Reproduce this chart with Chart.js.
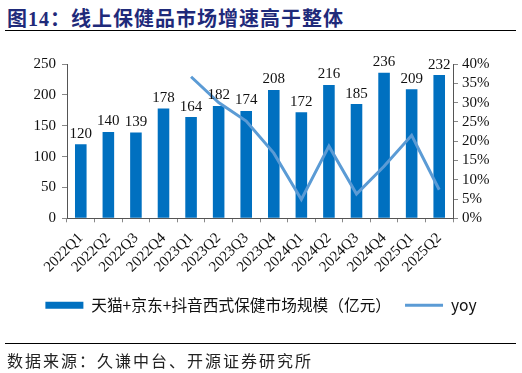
<!DOCTYPE html>
<html>
<head>
<meta charset="utf-8">
<script src="https://cdn.jsdelivr.net/npm/chart.js@4/dist/chart.umd.min.js"></script>
<style>
    body { margin: 0; background: #fff; }
    #wrap { position: relative; width: 522px; height: 373px; overflow: hidden; }
    #title {
        position: absolute; left: 7px; top: 3px;
        font: bold 20px "Liberation Serif", "Noto Sans CJK SC", serif;
        color: #1f2a7a; letter-spacing: 1px;
    }
    .rule { position: absolute; left: 5px; width: 511px; height: 1px; background: #000; }
    #source {
        position: absolute; left: 7px; top: 348px;
        font: 16px "Noto Sans CJK SC", sans-serif; color: #222; letter-spacing: 2px;
    }
    #chart { position: absolute; left: 0; top: 0; }
</style>
</head>
<body>
<div id="wrap">
    <div id="title">图14：线上保健品市场增速高于整体</div>
    <div class="rule" style="top:30px"></div>
    <canvas id="chart" width="522" height="373"></canvas>
    <div class="rule" style="top:343px"></div>
    <div id="source">数据来源：久谦中台、开源证券研究所</div>
</div>
<script>
// quarters
var quarters = ['2022Q1', '2022Q2', '2022Q3', '2022Q4', '2023Q1', '2023Q2', '2023Q3',
    '2023Q4', '2024Q1', '2024Q2', '2024Q3', '2024Q4', '2025Q1', '2025Q2'];
// 市场规模（亿元）
var marketSize = [120, 140, 139, 178, 164, 182, 174, 208, 172, 216, 185, 236, 209, 232];
// yoy (%), no value for 2022
var yoy = [null, null, null, null, 36.7, 30.0, 25.2, 16.9, 4.9, 18.7, 6.3, 13.5, 21.5, 7.4];

var serif = '"Liberation Serif", "Times New Roman", serif';
var cjk = '"Noto Sans CJK SC", sans-serif';

/**
 * Draw the value above each bar
 */
var barLabels = {
    id: 'barLabels',
    afterDatasetsDraw: function (chart) {
        var ctx = chart.ctx;
        var meta = chart.getDatasetMeta(0);
        ctx.save();
        ctx.font = '15px ' + serif;
        ctx.fillStyle = '#111';
        ctx.textAlign = 'center';
        ctx.textBaseline = 'bottom';
        meta.data.forEach(function (bar, i) {
            ctx.fillText(marketSize[i], bar.x, bar.y - 3);
        });
        ctx.restore();
    }
};

var ctx = document.getElementById('chart').getContext('2d');
var chart = new Chart(ctx, {
    type: 'bar',
    data: {
        labels: quarters,
        datasets: [{
            label: '天猫+京东+抖音西式保健市场规模（亿元）',
            data: marketSize,
            backgroundColor: '#0070c0',
            barPercentage: 0.42,
            categoryPercentage: 1,
            yAxisID: 'y',
            order: 2
        }, {
            type: 'line',
            label: 'yoy',
            data: yoy,
            borderColor: '#5b9bd5',
            backgroundColor: '#5b9bd5',
            borderWidth: 3,
            pointRadius: 0,
            tension: 0,
            yAxisID: 'y1',
            order: 1
        }]
    },
    options: {
        responsive: false,
        animation: false,
        layout: { padding: { top: 64, bottom: 50, left: 0, right: 0 } },
        plugins: {
            tooltip: { enabled: false },
            legend: {
                position: 'bottom',
                labels: {
                    usePointStyle: true,
                    pointStyleWidth: 38,
                    boxHeight: 7,
                    padding: 14,
                    color: '#111',
                    font: { family: cjk, size: 15.7 },
                    generateLabels: function (chart) {
                        var items = Chart.defaults.plugins.legend.labels.generateLabels(chart);
                        items.sort(function (a, b) { return a.datasetIndex - b.datasetIndex; });
                        items.forEach(function (item) {
                            item.pointStyle = item.datasetIndex === 0 ? 'rect' : 'line';
                        });
                        return items;
                    }
                }
            }
        },
        scales: {
            x: {
                grid: { display: true, drawOnChartArea: false, offset: true, tickLength: 4, color: '#888' },
                border: { color: '#555' },
                ticks: {
                    maxRotation: 45, minRotation: 45, padding: 7, autoSkip: false,
                    color: '#111', font: { family: serif, size: 15 }
                },
                afterFit: function (axis) { axis.height = 65; }
            },
            y: {
                position: 'left',
                min: 0, max: 250,
                grid: { display: true, drawOnChartArea: false, tickLength: 5, color: '#888' },
                border: { color: '#555' },
                ticks: { stepSize: 50, padding: 6, autoSkip: false, color: '#111', font: { family: serif, size: 15 } },
                afterFit: function (axis) { axis.width = 67; }
            },
            y1: {
                position: 'right',
                min: 0, max: 40,
                grid: { display: true, drawOnChartArea: false, tickLength: 5, color: '#888' },
                border: { color: '#555' },
                ticks: {
                    stepSize: 5, padding: 4, autoSkip: false, color: '#111', font: { family: serif, size: 15 },
                    callback: function (v) { return v + '%'; }
                },
                afterFit: function (axis) { axis.width = 69; }
            }
        }
    },
    plugins: [barLabels]
});
</script>
</body>
</html>
